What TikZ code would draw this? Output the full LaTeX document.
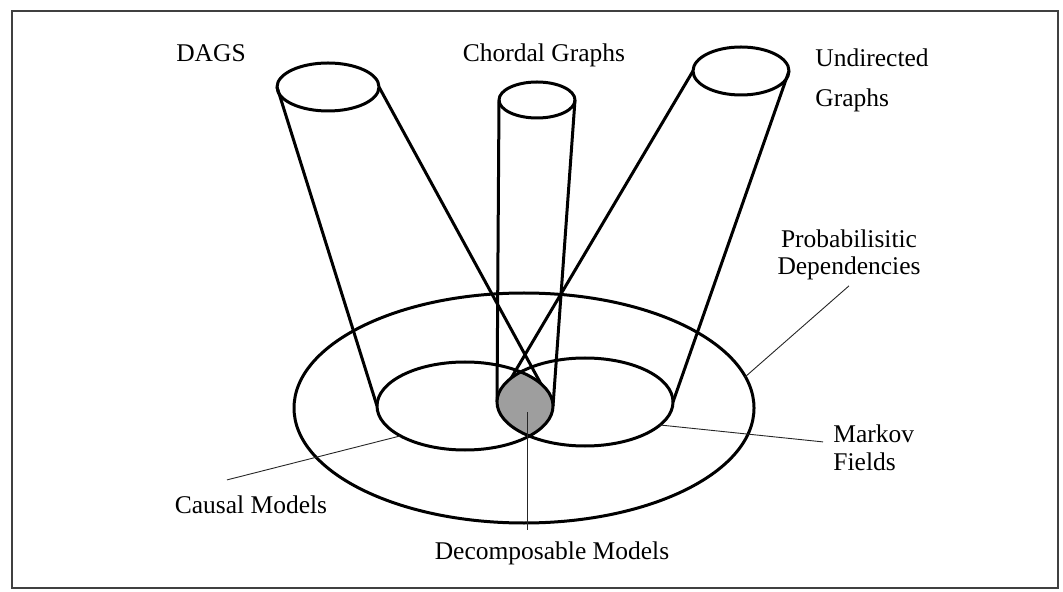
\documentclass[tikz,border=0pt]{standalone}
\usepackage{fontspec}
\setmainfont{Liberation Serif}
\usetikzlibrary{positioning,calc}

\begin{document}
\begin{tikzpicture}[
    x=0.5pt, y=-0.5pt,
    rim/.style={line width=1.5pt,line join=round},
    leader/.style={line width=0.45pt,black!85},
    frame/.style={line width=0.6pt,black!75},
    lbl/.style={inner sep=0pt,font=\fontsize{12.75}{14}\selectfont},
    lens/.style={fill=black!38},
  ]
  \useasboundingbox (0,0) rectangle (1063,592);
  \draw[frame] (12,11) rectangle (1058,588);

  % centres of the base ellipses and of the cylinder tops
  \coordinate (pd) at (524,408);
  \coordinate (cm) at (465,406);
  \coordinate (mf) at (585,402);
  \coordinate (dg) at (328,87);
  \coordinate (cg) at (537,100);
  \coordinate (ug) at (741,71);

  % left / right extremes, where the cylinder sides meet
  \coordinate (cm-w) at (377,406);
  \coordinate (cm-e) at (553,406);
  \coordinate (mf-w) at (497,402);
  \coordinate (mf-e) at (673,402);
  \coordinate (dg-w) at (277,87);
  \coordinate (dg-e) at (379,87);
  \coordinate (cg-w) at (499,100);
  \coordinate (cg-e) at (575,100);
  \coordinate (ug-w) at (693,71);
  \coordinate (ug-e) at (789,71);

  % --- cylinder sides ---
  \draw[rim] (dg-w) -- (cm-w);
  \draw[rim] (dg-e) -- (cm-e);
  \draw[rim] (cg-w) -- (mf-w);
  \draw[rim] (cg-e) -- (cm-e);
  \draw[rim] (ug-w) -- (mf-w);
  \draw[rim] (ug-e) -- (mf-e);

  % shaded overlap of the two model classes
  \begin{scope}
    \clip (cm) ellipse [x radius=88, y radius=44];
    \fill[lens] (mf) ellipse [x radius=88, y radius=44];
  \end{scope}

  % --- ellipses ---
  \draw[rim] (pd) ellipse [x radius=230, y radius=115];
  \draw[rim] (cm) ellipse [x radius=88, y radius=44];
  \draw[rim] (mf) ellipse [x radius=88, y radius=44];
  \draw[rim] (dg) ellipse [x radius=51, y radius=24];
  \draw[rim] (cg) ellipse [x radius=38, y radius=18];
  \draw[rim] (ug) ellipse [x radius=48, y radius=24];

  % --- labels (base of a two-line label = its last line) ---
  \node[lbl,anchor=base] (dagsL) at (211,62) {DAGS};
  \node[lbl,anchor=base] (chordL) at (544,62) {Chordal Graphs};
  \node[lbl,anchor=base west,align=left] (undirL) at (815,107) {Undirected\\[6pt]Graphs};
  \node[lbl,anchor=base,align=center] (probL) at (849,275) {Probabilisitic\\[-0.5pt]Dependencies};
  \node[lbl,anchor=base west,align=left] (markovL) at (833,470) {Markov\\Fields};
  \node[lbl,anchor=base] (causalL) at (251,513) {Causal Models};
  \node[lbl,anchor=base] (decompL) at (552,559) {Decomposable Models};

  % --- leader lines ---
  \coordinate (pd-tip) at (745,377);
  \coordinate (cm-tip) at (400,436);
  \coordinate (mf-tip) at (660,425);
  \coordinate (dm) at (527,412);
  \draw[leader] (pd-tip) -- ($(probL.south)+(0,5)$);
  \draw[leader] (cm-tip) -- ($(causalL.north)+(-24,-15)$);
  \draw[leader] (mf-tip) -- ($(markovL.north west)+(-10,18)$);
  \draw[leader] (dm) -- ($(dm |- decompL.north)+(0,-11)$);

\end{tikzpicture}
\end{document}
